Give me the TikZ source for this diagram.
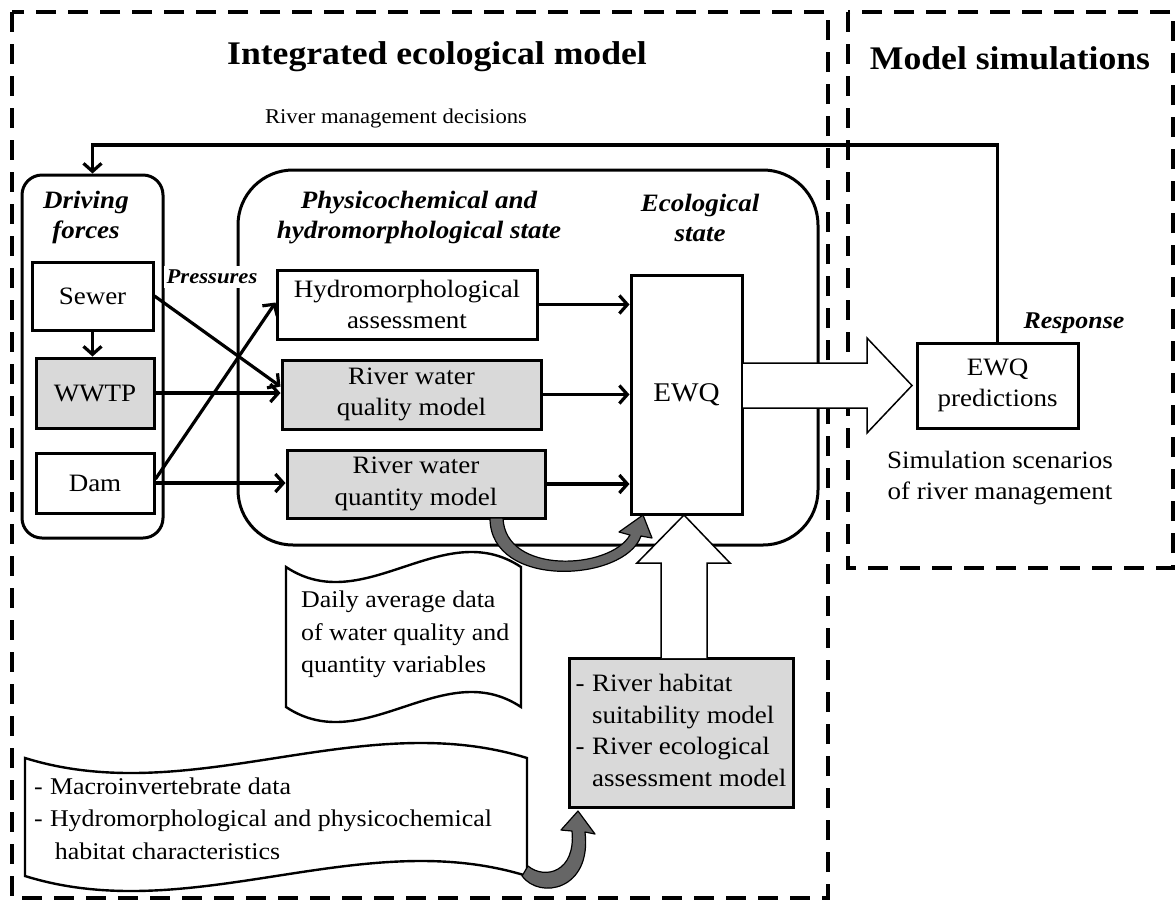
\documentclass[tikz,border=0pt]{standalone}
\usepackage{fontspec}
\setmainfont{Liberation Serif}[FakeStretch=1.08]
\usetikzlibrary{arrows.meta,calc}
\definecolor{boxgray}{HTML}{D9D9D9}
\definecolor{arrgray}{HTML}{666666}
\newcommand{\dashitem}{-\kern0.3em}

\begin{document}
\begin{tikzpicture}[x=1pt,y=-1pt,
  every node/.style={font=\fontsize{25}{31.5}\selectfont, inner sep=0pt},
  box/.style={draw, line width=3pt},
  graybox/.style={box, fill=boxgray},
  group/.style={draw, line width=3pt},
  frame/.style={draw, line width=4pt, dash pattern=on 20pt off 12pt},
  hd/.style={font=\fontsize{25}{30}\selectfont\bfseries\itshape, align=center},
  smallhd/.style={font=\fontsize{21}{25}\selectfont\bfseries\itshape},
  ttl/.style={font=\fontsize{33}{38}\selectfont\bfseries},
  arr/.style={line width=3.2pt, -{Straight Barb[length=8pt,width=18pt]}},
  blockarrow/.style={draw, line width=1.5pt, fill=white, line join=miter},
  bentarrow/.style={draw, line width=1.2pt, fill=arrgray, line join=round},
  scroll/.style={draw, line width=2.4pt, fill=white}
]
\useasboundingbox (0,0) rectangle (1176,906);

% dashed frames of the two parts
\draw[frame] (12,12) rectangle (828,898);
\draw[frame] (848,12) rectangle (1173,568);

\node[ttl] (t1) at (437,57) {Integrated ecological model};
\node[ttl] (t2) at (1010,58) {Model simulations};
\node[font=\fontsize{21}{25}\selectfont] (rmd) at (396,118) {River management decisions};

% driving forces
\node[group, rounded corners=20pt, minimum width=141pt, minimum height=363pt] (drive) at (92.5,356.5) {};
\node[hd] (drivet) at (86,217) {Driving\\forces};
\node[box, minimum width=121pt, minimum height=68pt] (sewer) at (92.5,296) {Sewer};
\node[graybox, minimum width=118pt, minimum height=70pt] (wwtp) at (95,393) {WWTP};
\node[box, minimum width=118pt, minimum height=60pt] (dam) at (95,483) {Dam};

% state
\node[group, rounded corners=55pt, minimum width=580pt, minimum height=375pt] (state) at (528,357.5) {};
\node[hd] (physt) at (419,218) {Physicochemical and\\hydromorphological state};
\node[hd] (ecot) at (700,218) {Ecological\\state};
\node[box, minimum width=260pt, minimum height=69pt, align=center] (hydro) at (407,304.5) {Hydromorphological\\assessment};
\node[graybox, minimum width=259pt, minimum height=69pt, align=center] (quality) at (411.5,394.5) {River water\\quality model};
\node[graybox, minimum width=258pt, minimum height=68pt, align=center] (quantity) at (416,484) {River water\\quantity model};
\node[box, minimum width=111pt, minimum height=239pt, font=\fontsize{27}{31}\selectfont] (ewq) at (686.5,394.5) {EWQ};

% simulations
\node[box, minimum width=161pt, minimum height=85pt, align=center] (ewqp) at (997.5,385.5) {EWQ\\predictions};
\node[smallhd, font=\fontsize{24}{28}\selectfont\bfseries\itshape] (resp) at (1074,323) {Response};
\node[align=center] (sim) at (1000,478) {Simulation scenarios\\of river management};

% data
\draw[scroll] (286,567) .. controls (364,619) and (443,515) .. (521,567)
  -- (521,707) .. controls (443,655) and (364,759) .. (286,707) -- cycle;
\node[anchor=west, align=left, font=\fontsize{24}{32.5}\selectfont] (dailyt) at (301,634.5)
  {Daily average data\\of water quality and\\quantity variables};

\draw[scroll] (25,758) .. controls (192,810) and (360,706) .. (527,758)
  -- (527,876) .. controls (360,824) and (192,928) .. (25,876) -- cycle;
\node[anchor=west, font=\fontsize{24}{32.5}\selectfont] (macrot) at (34,820)
  {\begin{tabular}{@{}l@{}l@{}}\dashitem&Macroinvertebrate data\\\dashitem&Hydromorphological and physicochemical\\&\kern0.2em habitat characteristics\end{tabular}};

\node[graybox, minimum width=224pt, minimum height=149pt] (habitat) at (681,732.5)
  {\begin{tabular}{@{}l@{}l@{}}\dashitem&River habitat\\&suitability model\\\dashitem&River ecological\\&assessment model\end{tabular}};

% connectors
\coordinate (fbR) at (997.5,145);
\draw[arr] (ewqp.north) -- (fbR) -| (drive.north);
\draw[arr] (sewer.south) -- (sewer.south |- wwtp.north);
\draw[arr] (sewer.east) -- ([yshift=8pt]quality.west);
\draw[arr] (wwtp.east) -- (wwtp.east -| quality.west);
\draw[arr] (dam.east) -- (dam.east -| quantity.west);
\draw[arr] ([yshift=4pt]dam.east) -- ([yshift=2pt]hydro.west);
\draw[arr] (hydro.east) -- (hydro.east -| ewq.west);
\draw[arr] (quality.east) -- (quality.east -| ewq.west);
\draw[arr] (quantity.east) -- (quantity.east -| ewq.west);

% block arrows
\draw[blockarrow] (742,363) -- (867,363) -- (867,338) -- (912,385.5) -- (867,433) -- (867,408) -- (742,408) -- cycle;
\draw[blockarrow] (661,658) -- (661,563) -- (637,563) -- (684,515) -- (730,563) -- (707,563) -- (707,658);

% bent arrows
\draw[bentarrow] (490,518) .. controls (490,590) and (625,582) .. (641,536)
  -- (652,538) -- (643,515) -- (619,532) -- (630,535)
  .. controls (610,570) and (505,575) .. (503,518) -- cycle;
\draw[bentarrow] (522,876) .. controls (540,900) and (592,890) .. (585,832)
  -- (595,834) -- (578,811) -- (561,830) -- (572,831)
  .. controls (576,872) and (545,880) .. (528,866) -- cycle;

\node[smallhd, fill=white, inner ysep=4pt, inner xsep=3pt] (press) at (212,277) {Pressures};
\end{tikzpicture}
\end{document}
